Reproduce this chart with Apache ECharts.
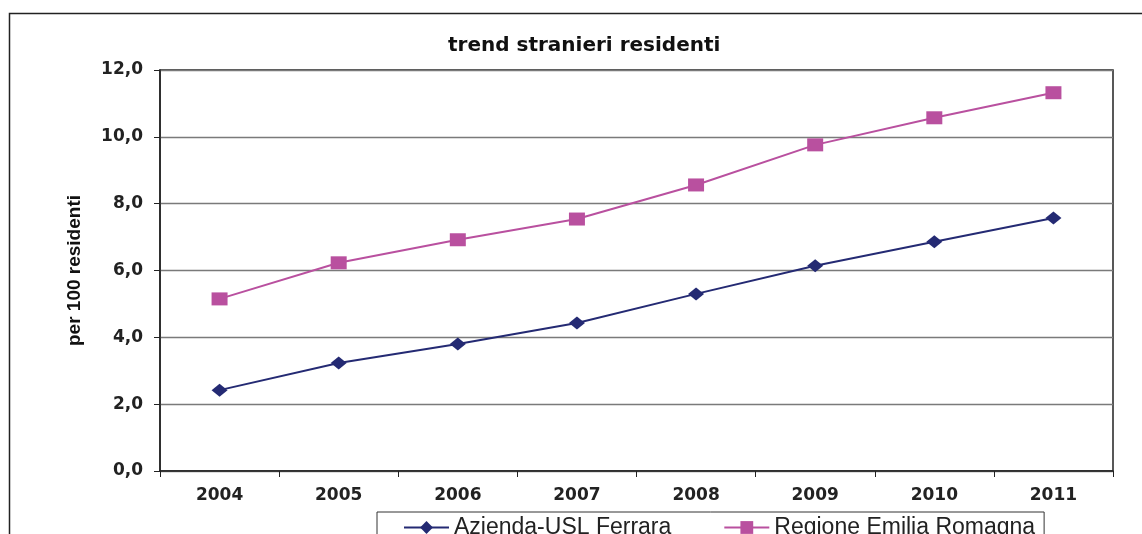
<!DOCTYPE html>
<html>
<head>
<meta charset="utf-8">
<script src="https://cdn.jsdelivr.net/npm/echarts@6/dist/echarts.min.js"></script>
<style>
  html, body { margin: 0; padding: 0; background: #fff; }
  #chart { width: 1142px; height: 534px; }
</style>
</head>
<body>
<div id="chart"></div>
<script>
var chartDom = document.getElementById('chart');
var myChart = echarts.init(chartDom);

const years = ['2004', '2005', '2006', '2007', '2008', '2009', '2010', '2011'];
const azienda = [2.42, 3.23, 3.80, 4.43, 5.30, 6.14, 6.86, 7.57];
const regione = [5.15, 6.23, 6.92, 7.54, 8.56, 9.76, 10.57, 11.32];

const colors = { azienda: '#242a73', regione: '#b9509f' };
const boldFont = 'DejaVu Sans, Verdana, sans-serif';
const font = 'Liberation Sans, Arial, sans-serif';

var option = {
  animation: false,
  title: {
    text: 'trend stranieri residenti',
    left: 443,
    top: 31,
    textStyle: { fontFamily: boldFont, fontSize: 20, fontWeight: 'bold', color: '#111' }
  },
  graphic: [
    {
      type: 'rect',
      shape: { x: 9.5, y: 13.5, width: 1200, height: 600 },
      style: { fill: 'none', stroke: '#222', lineWidth: 1.5 },
      silent: true
    }
  ],
  legend: {
    left: 377,
    top: 512,
    padding: [4, 9, 10, 26],
    itemGap: 52,
    itemWidth: 45,
    itemHeight: 16,
    borderColor: '#333',
    borderWidth: 1,
    borderRadius: 0,
    textStyle: { fontFamily: font, fontSize: 23, color: '#222' },
    data: ['Azienda-USL Ferrara', 'Regione Emilia Romagna']
  },
  grid: {
    left: 160, right: 29, top: 70, bottom: 63,
    show: true, borderColor: '#222', borderWidth: 1.5
  },
  xAxis: {
    type: 'category',
    data: years,
    axisLine: { lineStyle: { color: '#222', width: 1.5 } },
    axisTick: { show: true, length: 6, lineStyle: { color: '#222' } },
    axisLabel: { fontFamily: boldFont, fontSize: 17, fontWeight: 'bold', color: '#222', margin: 16 }
  },
  yAxis: {
    type: 'value',
    min: 0, max: 12, interval: 2,
    name: 'per 100 residenti',
    nameLocation: 'middle',
    nameGap: 76,
    nameTextStyle: { fontFamily: font, fontSize: 19, fontWeight: 'bold', color: '#111' },
    axisLine: { show: true, lineStyle: { color: '#222', width: 1.5 } },
    axisTick: { show: true, length: 6, lineStyle: { color: '#222' } },
    axisLabel: {
      fontFamily: boldFont, fontSize: 17, fontWeight: 'bold', color: '#222', margin: 17,
      formatter: (v) => v.toFixed(1).replace('.', ',')
    },
    splitLine: { lineStyle: { color: '#7a7a7a', width: 1.3 } }
  },
  series: [
    {
      name: 'Azienda-USL Ferrara',
      type: 'line',
      data: azienda,
      symbol: 'diamond',
      symbolSize: [16, 13],
      lineStyle: { color: colors.azienda, width: 2 },
      itemStyle: { color: colors.azienda }
    },
    {
      name: 'Regione Emilia Romagna',
      type: 'line',
      data: regione,
      symbol: 'rect',
      symbolSize: [16, 13],
      lineStyle: { color: colors.regione, width: 2 },
      itemStyle: { color: colors.regione }
    }
  ]
};

option && myChart.setOption(option);
</script>
</body>
</html>
